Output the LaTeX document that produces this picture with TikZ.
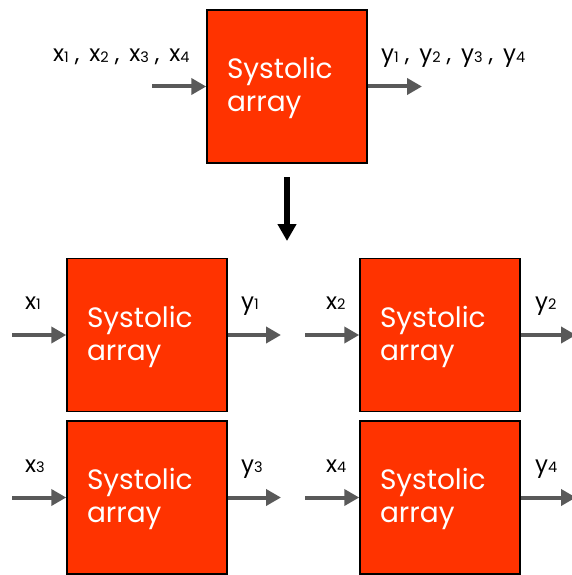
\documentclass[tikz,border=0pt]{standalone}
\usepackage{fontspec}
\setmainfont{Poppins}
\usetikzlibrary{arrows.meta}
\definecolor{boxred}{HTML}{FF3300}
\definecolor{arrgray}{HTML}{595959}
\newcommand{\sbs}[1]{\raisebox{-0.5pt}{\fontsize{14.5}{14.5}\selectfont #1}}
\newcommand{\sep}{\hspace{6pt},\hspace{10pt}}
\newcommand{\sysarr}{\rule{0pt}{25pt}Systolic\\array}
\begin{document}
\begin{tikzpicture}[x=1pt,y=-1pt,
 sbox/.style={draw=black, line width=1.5pt, fill=boxred, minimum width=160pt, minimum height=153pt, text width=120pt, inner xsep=20pt, align=left, text=white, font=\fontsize{28}{33}\selectfont},
 garr/.style={draw=arrgray, line width=4pt, -{Triangle[length=15pt,width=16pt]}},
 lbl/.style={font=\fontsize{23}{26}\selectfont, anchor=base west, inner sep=0pt}]
\useasboundingbox (0,0) rectangle (572,575);
% top
\node[sbox] (top) at (287,86.5) {\sysarr};
\coordinate (tin) at (152,86.5);
\coordinate (tout) at (422,86.5);
\draw[garr] (tin) -- (top.west);
\draw[garr] (top.east) -- (tout);
\node[lbl] (xl) at (53,62) {x\sbs1\sep x\sbs2\sep x\sbs3\sep x\sbs4};
\node[lbl] (yl) at (381,62) {y\sbs1\sep y\sbs2\sep y\sbs3\sep y\sbs4};
% down arrow
\coordinate (d1) at (287,177);
\coordinate (d2) at (287,241);
\draw[line width=6pt, -{Triangle[length=17pt,width=18pt]}] (d1) -- (d2);
% bottom boxes
\node[sbox] (b1) at (147,335) {\sysarr};
\node[sbox] (b2) at (440,335) {\sysarr};
\node[sbox] (b3) at (147,497.5) {\sysarr};
\node[sbox] (b4) at (440,497.5) {\sysarr};
\coordinate (i1) at (12,335);
\coordinate (o1) at (281,335);
\coordinate (i2) at (305,335);
\coordinate (o2) at (576,335);
\coordinate (i3) at (12,497.5);
\coordinate (o3) at (281,497.5);
\coordinate (i4) at (305,497.5);
\coordinate (o4) at (576,497.5);
\draw[garr] (i1) -- (b1.west);
\draw[garr] (b1.east) -- (o1);
\draw[garr] (i2) -- (b2.west);
\draw[garr] (b2.east) -- (o2);
\draw[garr] (i3) -- (b3.west);
\draw[garr] (b3.east) -- (o3);
\draw[garr] (i4) -- (b4.west);
\draw[garr] (b4.east) -- (o4);
\node[lbl] (x1) at (25,309) {x\sbs1};
\node[lbl] (y1) at (241,309) {y\sbs1};
\node[lbl] (x2) at (326,309) {x\sbs2};
\node[lbl] (y2) at (535,309) {y\sbs2};
\node[lbl] (x3) at (25,472) {x\sbs3};
\node[lbl] (y3) at (241,472) {y\sbs3};
\node[lbl] (x4) at (326,472) {x\sbs4};
\node[lbl] (y4) at (535,472) {y\sbs4};
\end{tikzpicture}
\end{document}
